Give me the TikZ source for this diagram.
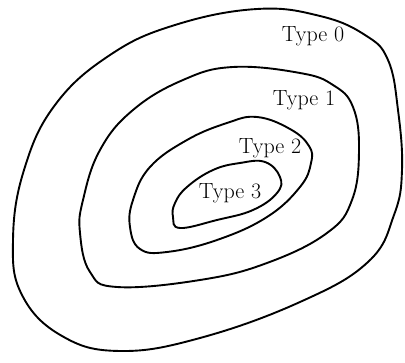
\documentclass[tikz,border=0pt]{standalone}
\usepackage{tikz}

\begin{document}
\begin{tikzpicture}[x=1pt,y=-1pt,line width=1.9pt,line join=round,
  lbl/.style={font=\fontsize{22}{25}\selectfont}]
\useasboundingbox (0,0) rectangle (405,363);
\draw plot[smooth cycle,tension=.7] coordinates {(257,9) (320,16) (365,35) (388,60) (398,110) (402,170) (394,215) (368,262) (300,302) (200,338) (120,351) (62,336) (22,295) (13,240) (24,170) (55,105) (110,55) (175,25)};
\draw plot[smooth cycle,tension=.7] coordinates {(233,67) (300,73) (333,85) (353,107) (359,150) (352,200) (327,233) (267,263) (200,280) (117,287) (90,272) (80,233) (83,200) (100,150) (133,110) (183,80)};
\draw plot[smooth cycle,tension=.7] coordinates {(257,117) (290,129) (309,146) (311,163) (300,187) (267,217) (217,240) (167,252) (140,249) (130,227) (133,200) (150,167) (187,140) (227,123)};
\draw plot[smooth cycle,tension=.7] coordinates {(265,162) (280,177) (277,193) (253,210) (217,220) (180,228) (173,217) (175,203) (187,187) (213,170) (240,163)};
\node[lbl] (t0) at (313,36) {Type 0};
\node[lbl] (t1) at (304,100) {Type 1};
\node[lbl] (t2) at (270,148) {Type 2};
\node[lbl] (t3) at (230,193) {Type 3};
\end{tikzpicture}
\end{document}
